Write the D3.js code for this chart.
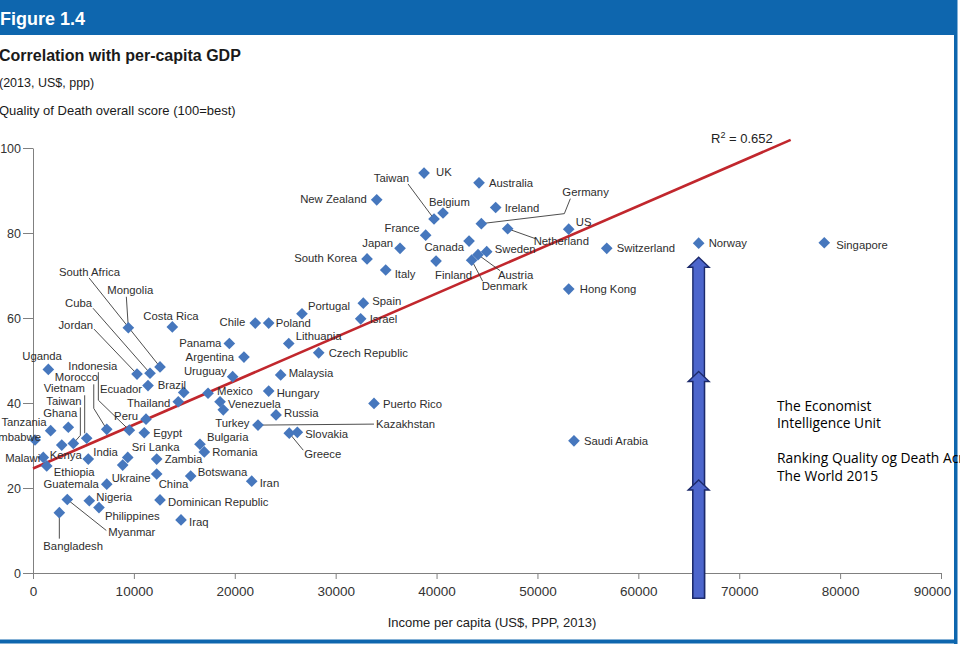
<!DOCTYPE html>
<html><head><meta charset="utf-8">
<script src="https://cdn.jsdelivr.net/npm/d3@7/dist/d3.min.js"></script>
<style>
html,body{margin:0;padding:0;background:#fff;overflow:hidden}
svg{display:block;font-family:"Liberation Sans",Arial,sans-serif}
</style></head><body>
<svg id="chart" width="960" height="646"></svg>
<script>
// ---------------- DATA ----------------
const countries = ["UK","Taiwan","Belgium","Australia","New Zealand","Ireland","Germany","Netherland","US","France",
"Canada","Japan","Sweden","Austria","Denmark","Finland","South Korea","Italy","Switzerland","Norway",
"Singapore","Hong Kong","Portugal","Spain","Israel","Chile","Poland","Lithuania","Czech Republic","Panama",
"Argentina","Uruguay","Malaysia","Hungary","Mexico","Venezuela","Turkey","Kazakhstan","Russia","Slovakia",
"Greece","Puerto Rico","Saudi Arabia","Bulgaria","Romania","Botswana","Iran","Zambia","China","Dominican Republic",
"Iraq","Sri Lanka","Ukraine","Egypt","Peru","Thailand","Brazil","Ecuador","Jordan","Cuba",
"South Africa","Mongolia","Costa Rica","Uganda","Indonesia","Morocco","Vietnam","Taiwan","Ghana","Tanzania",
"Zimbabwe","Kenya","Malawi","India","Ethiopia","Guatemala","Nigeria","Philippines","Myanmar","Bangladesh"];
const income = [38760,39750,40640,44210,34070,45860,44440,47050,53100,38920,
43220,36380,44970,44110,43480,39950,33110,34960,56870,65980,
78430,53100,26660,32740,32480,22030,23360,25350,28320,19460,
20910,19790,24550,23360,17350,18540,18860,22300,24090,26200,
25400,33800,53620,16550,16980,15630,21680,12260,12260,12590,
14670,9390,8890,11030,11200,14400,14940,11400,10310,11600,
12590,9450,13810,1520,9550,7310,5320,4000,3500,1750,
200,2850,1020,5480,1360,7310,5580,6540,3400,2610];
const score = [94.1,83.3,84.7,91.8,87.8,86.0,82.2,81.0,80.9,79.5,
78.1,76.4,75.6,74.9,73.6,73.4,73.9,71.3,76.4,77.6,
77.7,66.8,61.0,63.5,59.8,58.8,58.8,54.0,51.8,54.0,
50.8,46.2,46.6,42.8,42.3,40.3,38.4,34.8,37.2,33.1,
32.9,39.9,31.1,30.3,28.5,22.8,21.6,26.8,23.3,17.2,
12.5,27.2,25.4,33.0,36.2,40.3,42.5,44.1,46.8,47.0,
48.5,57.7,57.9,47.9,33.6,33.8,31.7,30.5,34.3,33.5,
31.3,30.1,27.2,26.8,25.2,20.9,17.0,15.4,17.3,14.2];
const xTicks = [0,10000,20000,30000,40000,50000,60000,70000,80000,90000];
const yTicks = [0,20,40,60,80,100];
const trendIncome = [0, 75100];
const trendScore = [24.6, 101.9];
const rSquared = "0.652";
const arrowIncome = 65980;          // arrows stand under Norway
const arrowTipScores = [74.3, 47.4, 21.9];
const arrowBaseScore = -5.9;

// ---------------- LAYOUT (label offsets in px, not data) ----------------
// [dx, dy, anchor ('s'|'e'), leader points relative to the marker]
const labelLayout = [
 [12,3,'s'],[-25,-37,'e',[[-26,-35],[0,0]]],[-14,-7,'s'],[10,4,'s'],[-10,3,'e'],[9,4,'s'],
 [81,-28,'s',[[0,0],[83,-10],[89,-25]]],[26,16,'s',[[0,0],[28,10]]],[7,-3,'s'],[-6,-3,'e'],
 [-5,10,'e'],[-7,-1,'e'],[8,1,'s'],[20,24,'s',[[0,0],[22,16]]],[10,30,'s',[[0,0],[11,21]]],[-1,18,'s'],
 [-10,3,'e'],[9,8,'s'],[10,4,'s'],[10,4,'s'],
 [12,6,'s'],[11,4,'s'],[6,-4,'s'],[9,2,'s'],[9,4,'s'],[-10,3,'e'],[7,4,'s'],[7,-4,'s'],[10,4,'s'],[-8,3,'e'],
 [-10,4,'e'],[-6,-2,'e'],[8,2,'s'],[8,6,'s'],[9,2,'s'],[8,6,'s'],[-8,17,'s'],[118,3,'s',[[0,0],[116,-1]]],[8,2,'s'],[8,6,'s'],
 [15,25,'s',[[0,0],[14,17]]],[9,5,'s'],[10,4,'s'],[7,-3,'s'],[8,4,'s'],[7,0,'s'],[8,6,'s'],[8,4,'s'],[2,14,'s'],[8,6,'s'],
 [8,6,'s'],[4,-6,'s'],[-11,17,'s'],[9,4,'s'],[-8,1,'e'],[-8,5,'e'],[-26,-3,'s'],[-6,7,'e'],
 [-44,-45,'e',[[-43,-45],[0,0]]],[-58,-66,'e',[[-57,-65],[0,0]]],
 [-101,-91,'s',[[-71,-89],[0,0]]],[-21,-34,'s',[[-2,-31],[0,0]]],[-29,-7,'s'],[-26,-9,'s'],
 [-61,-60,'s',[[-31,-58],[-31,-30],[0,0]]],[-52,-48,'s',[[-13,-45],[-13,-21],[0,0]]],
 [-43,-46,'s',[[-2,-43],[-2,-5]]],[-27,-38,'s',[[7,-36],[7,-8],[0,0]]],[-25,-10,'s'],[-4,-5,'e'],
 [6,1,'e'],[-12,14,'s'],[-3,5,'e'],[5,-3,'s'],[7,10,'s'],[-8,4,'e'],[7,0,'s'],[6,12,'s'],
 [41,37,'s',[[0,0],[39,31]]],[-16,37,'s',[[0,0],[0,26]]]
];

// ---------------- DRAW ----------------
const svg = d3.select("#chart");
const blue = "#0e66ae";

const x = d3.scaleLinear().domain([0, 90000]).range([33, 941]);
const y = d3.scaleLinear().domain([0, 100]).range([573, 148]);

// Frame
svg.append("rect").attr("x",0).attr("y",0).attr("width",957).attr("height",35).attr("fill",blue);
svg.append("rect").attr("x",954).attr("y",0).attr("width",3.5).attr("height",644).attr("fill",blue);
svg.append("rect").attr("x",0).attr("y",639.5).attr("width",957).attr("height",4).attr("fill",blue);

svg.append("text").attr("x",0).attr("y",25).attr("fill","#fff")
  .attr("font-size",18).attr("font-weight","bold").text("Figure 1.4");
svg.append("text").attr("x",-1).attr("y",61).attr("fill","#1a1a1a")
  .attr("font-size",16).attr("font-weight","bold").text("Correlation with per-capita GDP");
svg.append("text").attr("x",-1).attr("y",87).attr("fill","#1a1a1a")
  .attr("font-size",12.5).text("(2013, US$, ppp)");
svg.append("text").attr("x",-1).attr("y",115).attr("fill","#1a1a1a")
  .attr("font-size",13).text("Quality of Death overall score (100=best)");

// Axes
const yAxis = svg.append("g").attr("transform","translate(33,0)")
  .call(d3.axisLeft(y).tickValues(yTicks).tickSize(10).tickSizeOuter(0).tickPadding(2));
const xAxis = svg.append("g").attr("transform","translate(0,573)")
  .call(d3.axisBottom(x).tickValues(xTicks).tickFormat(d3.format("d")).tickSize(6).tickSizeOuter(0).tickPadding(7));
[yAxis,xAxis].forEach(g=>{
  g.selectAll("path,line").attr("stroke","#808080");
  g.selectAll("text").attr("fill","#333")
   .attr("font-family","'Liberation Sans',Arial,sans-serif");
});
yAxis.selectAll("text").attr("font-size",12.5);
xAxis.selectAll("text").attr("font-size",13.5)
  .attr("dx", d => d === xTicks[xTicks.length-1] ? -9 : 0);
svg.append("text").attr("x",492).attr("y",627).attr("text-anchor","middle")
  .attr("fill","#222").attr("font-size",13).text("Income per capita (US$, PPP, 2013)");

// Trend line
svg.append("path")
  .attr("d", d3.line()(trendIncome.map((v,i)=>[x(v), y(trendScore[i])])))
  .attr("stroke","#c1272d").attr("stroke-width",2.6).attr("fill","none");
const r2 = svg.append("text").attr("x",711).attr("y",143).attr("fill","#222").attr("font-size",13);
r2.append("tspan").text("R");
r2.append("tspan").attr("font-size",9).attr("dy",-5).text("2");
r2.append("tspan").attr("dy",5).text(" = " + rSquared);

// Points
const pts = countries.map((c,i)=>({name:c, px:x(income[i]), py:y(score[i]), lay:labelLayout[i]}));

const lineGen = d3.line();
svg.append("g").selectAll("path").data(pts.filter(d=>d.lay[3])).join("path")
  .attr("d", d=>lineGen(d.lay[3].map(p=>[d.px+p[0], d.py+p[1]])))
  .attr("fill","none").attr("stroke","#3a3a3a").attr("stroke-width",0.9);

const diamond = d3.symbol(d3.symbolSquare, 68);
svg.append("g").selectAll("path").data(pts).join("path")
  .attr("d", diamond)
  .attr("transform", d=>`translate(${d.px},${d.py}) rotate(45)`)
  .attr("fill","#4677bd");

svg.append("g").selectAll("text").data(pts).join("text")
  .attr("x", d=>d.px + d.lay[0])
  .attr("y", d=>d.py + d.lay[1])
  .attr("text-anchor", d=>d.lay[2]==='e' ? "end" : "start")
  .attr("font-size",11.3).attr("fill","#2e2e2e")
  .text(d=>d.name);

// Annotation arrows (drawn longest first)
const ax = x(arrowIncome), baseY = y(arrowBaseScore);
arrowTipScores.forEach(t=>{
  const ty = y(t);
  const p = d3.path();
  p.moveTo(ax, ty); p.lineTo(ax+10.5, ty+10); p.lineTo(ax+5.8, ty+10);
  p.lineTo(ax+5.8, baseY); p.lineTo(ax-5.8, baseY); p.lineTo(ax-5.8, ty+10);
  p.lineTo(ax-10.5, ty+10); p.closePath();
  svg.append("path").attr("d", p.toString())
    .attr("fill","#4d66cc").attr("stroke","#1c2a6b").attr("stroke-width",1.4);
});

// Text box
const boxLines = [["The Economist",410.5],["Intelligence Unit",428],["Ranking Quality og Death Across",463],["The World 2015",481]];
svg.append("g").selectAll("text").data(boxLines).join("text")
  .attr("x",777).attr("y",d=>d[1]).attr("font-size",13.8).attr("fill","#000")
  .attr("font-family","'Open Sans',sans-serif").text(d=>d[0]);
</script>
</body></html>
